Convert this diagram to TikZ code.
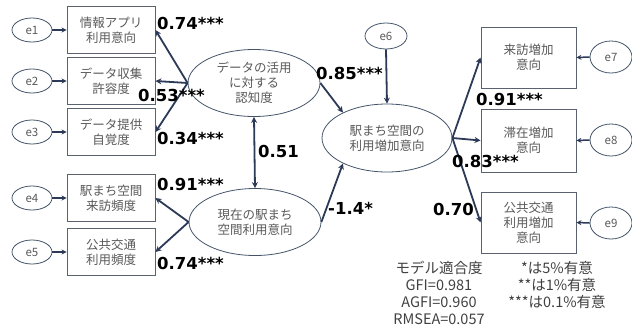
\documentclass[tikz,border=0pt]{standalone}
\usepackage{fontspec}
\setmainfont{Noto Sans CJK JP}
\newfontfamily\lblfont{DejaVu Sans}
\usetikzlibrary{shapes.geometric,arrows.meta}
\definecolor{arrc}{HTML}{2C3A58}
\definecolor{boxc}{HTML}{5A6270}
\definecolor{ellc}{HTML}{44546A}
\definecolor{txt}{HTML}{595959}
\definecolor{txtb}{HTML}{404040}
\begin{document}
\begin{tikzpicture}[x=1pt,y=-1pt,
  box/.style={draw=boxc, line width=0.9pt, minimum width=88pt, minimum height=47pt, inner sep=0pt, align=center, font=\fontsize{12.5}{15}\selectfont, text=txt},
  rbox/.style={box, minimum width=95pt, minimum height=61pt},
  err/.style={draw=ellc, ellipse, line width=0.8pt, minimum width=40pt, minimum height=24pt, inner sep=0pt, font=\fontsize{11.5}{13}\selectfont, text=txt},
  lat/.style={draw=ellc, ellipse, line width=0.8pt, minimum width=132pt, minimum height=67pt, inner sep=0pt, align=center, font=\fontsize{12.5}{15}\selectfont, text=txt},
  arr/.style={draw=arrc, line width=1.8pt, -{Stealth[length=6pt,width=6pt]}},
  sarr/.style={draw=arrc, line width=1.5pt, -{Stealth[length=5pt,width=5pt]}},
  lbl/.style={font=\lblfont\fontsize{16.5}{19}\selectfont\bfseries, text=black, inner sep=0pt, anchor=west},
  note/.style={font=\fontsize{14.5}{17}\selectfont, text=txtb, align=center, inner sep=0pt}
]
\useasboundingbox (0,0) rectangle (632,325);
% left boxes
\node[box] (b1) at (111,30) {情報アプリ\\利用意向};
\node[box] (b2) at (111,81) {データ収集\\許容度};
\node[box] (b3) at (111,132) {データ提供\\自覚度};
\node[box] (b4) at (111,198) {駅まち空間\\来訪頻度};
\node[box] (b5) at (111,252) {公共交通\\利用頻度};
% errors left
\node[err] (e1) at (32,30) {e1};
\node[err] (e2) at (32,81) {e2};
\node[err] (e3) at (32,132) {e3};
\node[err] (e4) at (32,198) {e4};
\node[err] (e5) at (32,252) {e5};
% latent
\node[lat] (A) at (254,83) {データの活用\\に対する\\認知度};
\node[lat] (B) at (255,222) {現在の駅まち\\空間利用意向};
\node[lat, minimum width=130pt, minimum height=68pt] (C) at (387,138) {駅まち空間の\\利用増加意向};
\node[err, minimum width=42pt, minimum height=26pt] (e6) at (386,36) {e6};
% right boxes
\node[rbox] (b7) at (528.5,57.5) {来訪増加\\意向};
\node[rbox, minimum height=63pt] (b8) at (528.5,140.5) {滞在増加\\意向};
\node[rbox] (b9) at (528.5,222.5) {公共交通\\利用増加\\意向};
\node[err, minimum width=42pt, minimum height=32pt] (e7) at (611,57) {e7};
\node[err, minimum width=42pt, minimum height=32pt] (e8) at (611,140) {e8};
\node[err, minimum width=42pt, minimum height=32pt] (e9) at (611,223) {e9};
% error arrows
\foreach \i in {1,...,5} {\draw[sarr] (e\i.east) -- (b\i.west);}
\foreach \i in {7,8,9} {\draw[sarr] (e\i.west) -- (b\i.east);}
\draw[arr] (e6.south) -- (C.north);
% loadings
\draw[arr] (A.west) -- (b1.east);
\draw[arr] (A.west) -- (b2.east);
\draw[arr] (A.west) -- (b3.east);
\draw[arr] (B.west) -- (b4.east);
\draw[arr] (B.west) -- (b5.east);
\draw[arr] (C.east) -- (b7.west);
\draw[arr] (C.east) -- (b8.west);
\draw[arr] (C.east) -- (b9.west);
% structural
\draw[arr] (A.east) -- (C.150);
\draw[arr] (B.east) -- (C.210);
\draw[draw=arrc, line width=1.8pt, {Stealth[length=6pt,width=6pt]}-{Stealth[length=6pt,width=6pt]}] (B.north) -- (A.south);
% labels
\node[lbl] (l1) at (157,23) {0.74***};
\node[lbl] (l2) at (138,95) {0.53***};
\node[lbl] (l3) at (157,138) {0.34***};
\node[lbl] (l4) at (258,151) {0.51};
\node[lbl] (l5) at (316,73) {0.85***};
\node[lbl] (l6) at (157,184) {0.91***};
\node[lbl] (l7) at (157,263) {0.74***};
\node[lbl] (l8) at (328,208) {-1.4*};
\node[lbl] (l9) at (476,99) {0.91***};
\node[lbl] (l10) at (452,161) {0.83***};
\node[lbl] (l11) at (433,209) {0.70};
% notes
\node[note] (n1) at (439,293) {モデル適合度\\GFI=0.981\\AGFI=0.960\\RMSEA=0.057};
\node[note] (n2) at (557,285) {*は5\%有意\\**は1\%有意\\***は0.1\%有意};
\end{tikzpicture}
\end{document}
